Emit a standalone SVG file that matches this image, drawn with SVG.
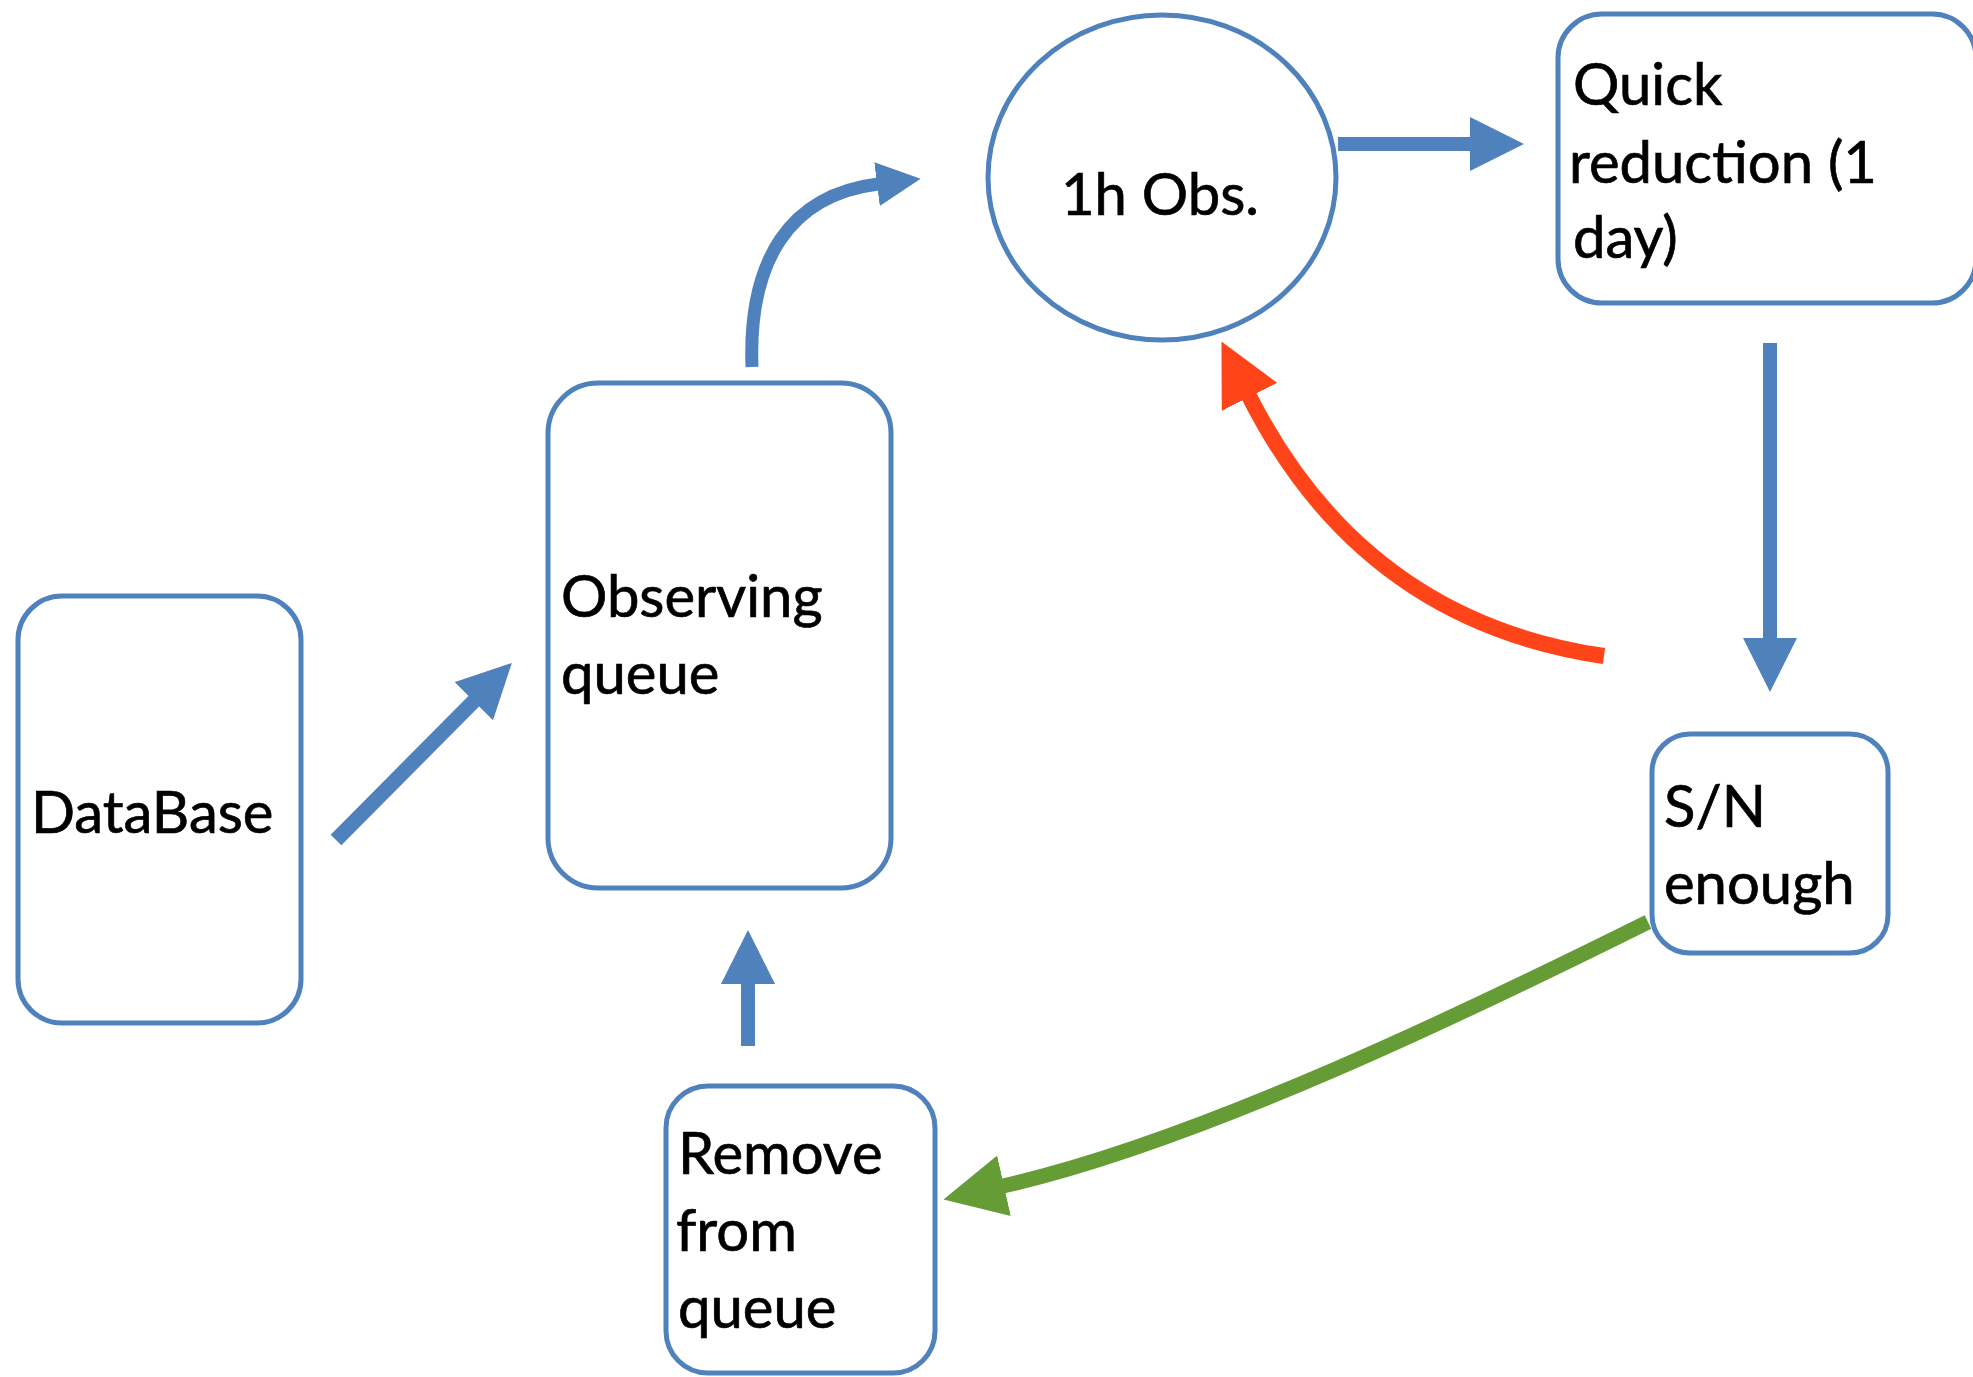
<svg xmlns="http://www.w3.org/2000/svg" width="1973" height="1377" viewBox="0 0 1973 1377">
  <style>
    .node { fill: #ffffff; stroke: #4f81bd; stroke-width: 5; }
    .label { font-family: Lato, "Liberation Sans", sans-serif; font-size: 58px; fill: #000000; stroke: #000000; stroke-width: 0.7; }
    .blue { fill: none; stroke: #4f81bd; stroke-width: 14; }
    .red { fill: none; stroke: #ff4419; stroke-width: 16; }
    .green { fill: none; stroke: #669c35; stroke-width: 15; }
  </style>
  <defs>
    <marker id="headBlue" viewBox="0 0 54 54" refX="1" refY="27" markerWidth="54" markerHeight="54" markerUnits="userSpaceOnUse" orient="auto">
      <path d="M0,0 L54,27 L0,54 Z" fill="#4f81bd"/>
    </marker>
    <marker id="headBlueSmall" viewBox="0 0 44 44" refX="1" refY="22" markerWidth="44" markerHeight="44" markerUnits="userSpaceOnUse" orient="auto">
      <path d="M0,0 L44,22 L0,44 Z" fill="#4f81bd"/>
    </marker>
    <marker id="headRed" viewBox="0 0 62 62" refX="1" refY="31" markerWidth="62" markerHeight="62" markerUnits="userSpaceOnUse" orient="auto">
      <path d="M0,0 L62,31 L0,62 Z" fill="#ff4419"/>
    </marker>
    <marker id="headGreen" viewBox="0 0 62 62" refX="1" refY="31" markerWidth="62" markerHeight="62" markerUnits="userSpaceOnUse" orient="auto">
      <path d="M0,0 L62,31 L0,62 Z" fill="#669c35"/>
    </marker>
  </defs>

  <rect width="1973" height="1377" fill="#ffffff"/>

  <g id="connectors">
    <!-- DataBase to Observing queue -->
    <path class="blue" style="stroke-width:15" d="M336,840 L474.5,700.5" marker-end="url(#headBlue)"/>
    <!-- Observing queue up to the observation -->
    <path class="blue" style="stroke-width:13" d="M752,367 C748,260 790,195 878,184" marker-end="url(#headBlueSmall)"/>
    <!-- Observation to quick reduction -->
    <path class="blue" d="M1338,144 L1471,144" marker-end="url(#headBlue)"/>
    <!-- Quick reduction down to S/N check -->
    <path class="blue" d="M1770,343 L1770,639" marker-end="url(#headBlue)"/>
    <!-- Remove from queue back up to Observing queue -->
    <path class="blue" d="M748,1046 L748,983" marker-end="url(#headBlue)"/>
    <!-- Not enough S/N: observe again -->
    <path class="red" d="M1604,656 Q1362.7,620.8 1249,396" marker-end="url(#headRed)"/>
    <!-- Enough S/N: remove from queue -->
    <path class="green" d="M1648,922 C1469,1011 1198,1142 1003,1186" marker-end="url(#headGreen)"/>
  </g>

  <g id="database">
    <rect class="node" x="18" y="596" width="283" height="427" rx="44" ry="44"/>
    <text class="label" x="31" y="833">DataBase</text>
  </g>

  <g id="observing-queue">
    <rect class="node" x="548" y="383" width="343" height="505" rx="50" ry="50"/>
    <text class="label" x="561" y="617">Observing</text>
    <text class="label" x="561" y="694">queue</text>
  </g>

  <g id="observation">
    <ellipse class="node" cx="1162" cy="177.5" rx="174" ry="162.5"/>
    <text class="label" x="1160" y="215" text-anchor="middle">1h Obs.</text>
  </g>

  <g id="quick-reduction">
    <rect class="node" x="1558" y="14" width="418" height="289" rx="44" ry="44"/>
    <text class="label" x="1573" y="105">Quick</text>
    <text class="label" x="1569" y="183">reduction (1</text>
    <text class="label" x="1573" y="258">day)</text>
  </g>

  <g id="sn-enough">
    <rect class="node" x="1652" y="734" width="236" height="219" rx="38" ry="38"/>
    <text class="label" x="1664" y="827">S/N</text>
    <text class="label" x="1664" y="904">enough</text>
  </g>

  <g id="remove-from-queue">
    <rect class="node" x="666" y="1086" width="269" height="287" rx="42" ry="42"/>
    <text class="label" x="678" y="1174">Remove</text>
    <text class="label" x="676" y="1251">from</text>
    <text class="label" x="678" y="1328">queue</text>
  </g>
</svg>
